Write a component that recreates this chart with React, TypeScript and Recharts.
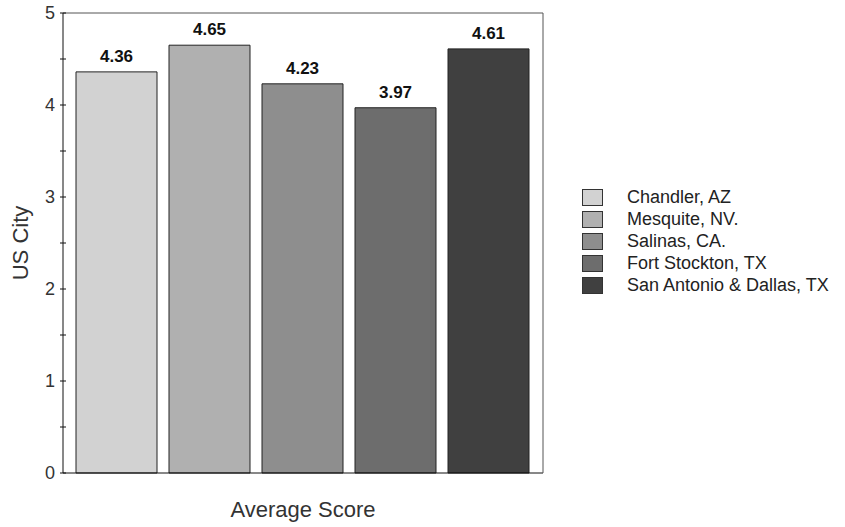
import React from 'react';
import { BarChart, Bar, XAxis, YAxis, Legend, LabelList, ReferenceLine } from 'recharts';

const cities = ['Chandler, AZ', 'Mesquite, NV.', 'Salinas, CA.', 'Fort Stockton, TX', 'San Antonio & Dallas, TX'];
const scores = [4.36, 4.65, 4.23, 3.97, 4.61];
const fills = ['#d2d2d2', '#b0b0b0', '#8e8e8e', '#6d6d6d', '#404040'];
const yTicks = [0, 0.5, 1, 1.5, 2, 2.5, 3, 3.5, 4, 4.5, 5];

const keys = cities.map((_, i) => 'c' + i);
const row: any = { name: 'Average Score' };
keys.forEach((k, i) => { row[k] = scores[i]; });
const data = [row];

const font = '"Liberation Sans", Arial, sans-serif';

const YTick = (props: any) => {
    const { x, y, payload } = props;
    const major = Number.isInteger(payload.value);
    return (
        <g>
            <line x1={x - 3} x2={x + 3} y1={y} y2={y} stroke="#111" />
            {major && (
                <text x={x - 8} y={y} dy={6} textAnchor="end" fontSize={18} fill="#333" fontFamily={font}>
                    {payload.value}
                </text>
            )}
        </g>
    );
};

const YLabel = (props: any) => {
    const { viewBox } = props;
    const cy = viewBox.y + viewBox.height / 2;
    return (
        <text x={22} y={cy} transform={`rotate(-90 22 ${cy})`} textAnchor="middle" dominantBaseline="middle"
            fontSize={22} fill="#333" fontFamily={font}>
            US City
        </text>
    );
};

// legend keeps the series order (recharts would sort it by name)
const LegendBox = () => (
    <div>
        {cities.map((c, i) => (
            <div key={c} style={{ display: 'flex', alignItems: 'center', height: 22 }}>
                <div style={{ width: 21, height: 17, background: fills[i], border: '1px solid #333', boxSizing: 'border-box' }} />
                <span style={{ marginLeft: 24, fontSize: 18, color: '#222', fontFamily: font, whiteSpace: 'nowrap' }}>{c}</span>
            </div>
        ))}
    </div>
);

const App: React.FC = () => {
    return (
        <div style={{ position: 'absolute', left: 0, top: 0, width: 845, height: 527, background: '#fff' }}>
            <BarChart width={845} height={527} data={data} margin={{ top: 13, right: 301, bottom: 0, left: 0 }}
                barCategoryGap={13} barGap={12}>
                <XAxis dataKey="name" height={54} tick={false} tickLine={false} axisLine={{ stroke: '#111' }}
                    label={{ value: 'Average Score', position: 'insideBottom', offset: 10, fontSize: 22, fill: '#333', fontFamily: font }} />
                <YAxis domain={[0, 5]} ticks={yTicks} width={63} tickSize={0} tickMargin={0} interval={0}
                    tickLine={false} axisLine={{ stroke: '#111' }} tick={<YTick />} label={<YLabel />} />
                <YAxis yAxisId="r" orientation="right" domain={[0, 5]} width={1} tick={false} tickLine={false}
                    axisLine={{ stroke: '#555' }} />
                <ReferenceLine y={5} stroke="#555" />
                {keys.map((k, i) => (
                    <Bar key={k} dataKey={k} name={cities[i]} fill={fills[i]} stroke="#222" strokeWidth={1}
                        isAnimationActive={false}>
                        <LabelList dataKey={k} position="top" offset={10} fontSize={17} fontWeight="bold" fill="#111"
                            fontFamily={font} />
                    </Bar>
                ))}
                <Legend layout="vertical" align="center" verticalAlign="middle" content={<LegendBox />}
                    wrapperStyle={{ left: 582, top: 186, width: 260 }} />
            </BarChart>
        </div>
    );
};

export default App;
